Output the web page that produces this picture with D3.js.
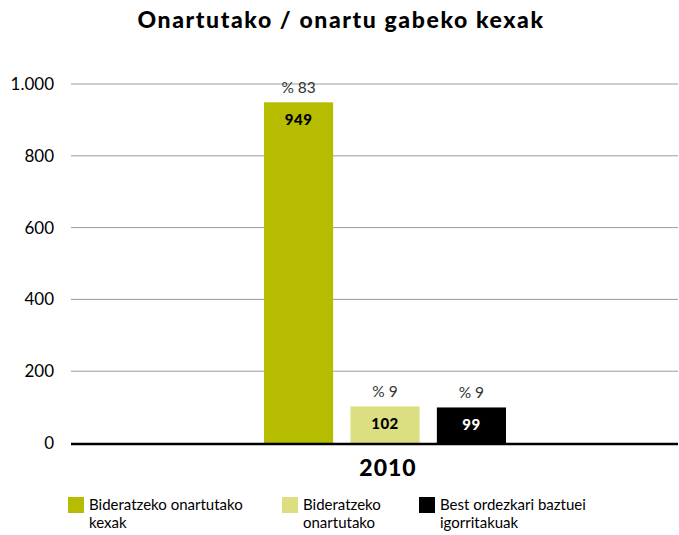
<!DOCTYPE html>
<html>
<head>
<meta charset="utf-8">
<script src="https://cdn.jsdelivr.net/npm/d3@7"></script>
<style>
    body { margin: 0; background: #fff; }
    svg text { font-family: Lato, "Open Sans", sans-serif; }
</style>
</head>
<body>
<div id="chart"></div>
<script>
var categories = ['2010'];
var seriesNames = ['Bideratzeko onartutako kexak', 'Bideratzeko onartutako', 'Best ordezkari baztuei igorritakuak'];
var legendLines = [['Bideratzeko onartutako', 'kexak'], ['Bideratzeko', 'onartutako'], ['Best ordezkari baztuei', 'igorritakuak']];
var values = [949, 102, 99];
var percents = ['% 83', '% 9', '% 9'];
var colors = ['#b6bd00', '#dbdf82', '#000000'];
var valueColors = ['#000', '#000', '#fff'];
var yTicks = [0, 200, 400, 600, 800, 1000];

var width = 679, height = 535;
var margin = {top: 84, left: 71, right: 1, bottom: 92};

var svg = d3.select('#chart').append('svg')
    .attr('width', width)
    .attr('height', height);

svg.append('text')
    .attr('x', 341).attr('y', 28)
    .attr('text-anchor', 'middle')
    .style('font-size', '23px').style('font-weight', '900')
    .style('letter-spacing', '1.6px')
    .text('Onartutako / onartu gabeko kexak');

var y = d3.scaleLinear().domain([0, 1000]).range([443, 84]);
var x0 = d3.scaleBand().domain(categories).range([margin.left, width - margin.right]);
var x1 = d3.scaleBand().domain(d3.range(values.length)).range([264, 506]).paddingInner(0.2);

// gridlines
svg.append('g').selectAll('line')
    .data(yTicks.filter(function(d) { return d > 0; }))
    .enter().append('line')
    .attr('x1', margin.left).attr('x2', width - margin.right)
    .attr('y1', function(d) { return y(d); })
    .attr('y2', function(d) { return y(d); })
    .attr('stroke', '#9a9a9a').attr('stroke-width', 1);

var fmt = function(d) { return d3.format(',')(d).replace(',', '.'); };
svg.append('g').selectAll('text')
    .data(yTicks)
    .enter().append('text')
    .attr('x', 54)
    .attr('y', function(d) { return y(d) + 6; })
    .attr('text-anchor', 'end')
    .style('font-size', '17px')
    .text(fmt);

var bars = svg.append('g');
bars.selectAll('rect')
    .data(values)
    .enter().append('rect')
    .attr('x', function(d, i) { return x1(i); })
    .attr('width', x1.bandwidth())
    .attr('y', function(d) { return y(d); })
    .attr('height', function(d) { return y(0) - y(d); })
    .attr('fill', function(d, i) { return colors[i]; });

bars.selectAll('text.val')
    .data(values)
    .enter().append('text')
    .attr('class', 'val')
    .attr('x', function(d, i) { return x1(i) + x1.bandwidth() / 2; })
    .attr('y', function(d) { return y(d) + 23; })
    .attr('text-anchor', 'middle')
    .style('font-size', '15px').style('font-weight', '900')
    .style('letter-spacing', '0.5px')
    .attr('fill', function(d, i) { return valueColors[i]; })
    .text(function(d) { return d; });

bars.selectAll('text.pct')
    .data(values)
    .enter().append('text')
    .attr('class', 'pct')
    .attr('x', function(d, i) { return x1(i) + x1.bandwidth() / 2; })
    .attr('y', function(d) { return y(d) - 9; })
    .attr('text-anchor', 'middle')
    .style('font-size', '15.5px')
    .attr('fill', '#333')
    .text(function(d, i) { return percents[i]; });

// zero axis
svg.append('line')
    .attr('x1', margin.left).attr('x2', width - margin.right)
    .attr('y1', y(0) + 1).attr('y2', y(0) + 1)
    .attr('stroke', '#000').attr('stroke-width', 2.5);

svg.append('text')
    .attr('x', 388).attr('y', 476)
    .attr('text-anchor', 'middle')
    .style('font-size', '23px').style('font-weight', '900')
    .style('letter-spacing', '1px')
    .text(categories[0]);

// legend
var legendX = [68, 282, 419];
var legend = svg.append('g').selectAll('g')
    .data(seriesNames)
    .enter().append('g')
    .attr('transform', function(d, i) { return 'translate(' + legendX[i] + ',497)'; });

legend.append('rect')
    .attr('width', 16).attr('height', 16)
    .attr('fill', function(d, i) { return colors[i]; });

legend.each(function(d, i) {
    var t = d3.select(this).append('text')
        .attr('x', 21).attr('y', 13)
        .style('font-size', '15px');
    legendLines[i].forEach(function(line, j) {
        t.append('tspan').attr('x', 21).attr('dy', j === 0 ? 0 : 18).text(line);
    });
});
</script>
</body>
</html>
